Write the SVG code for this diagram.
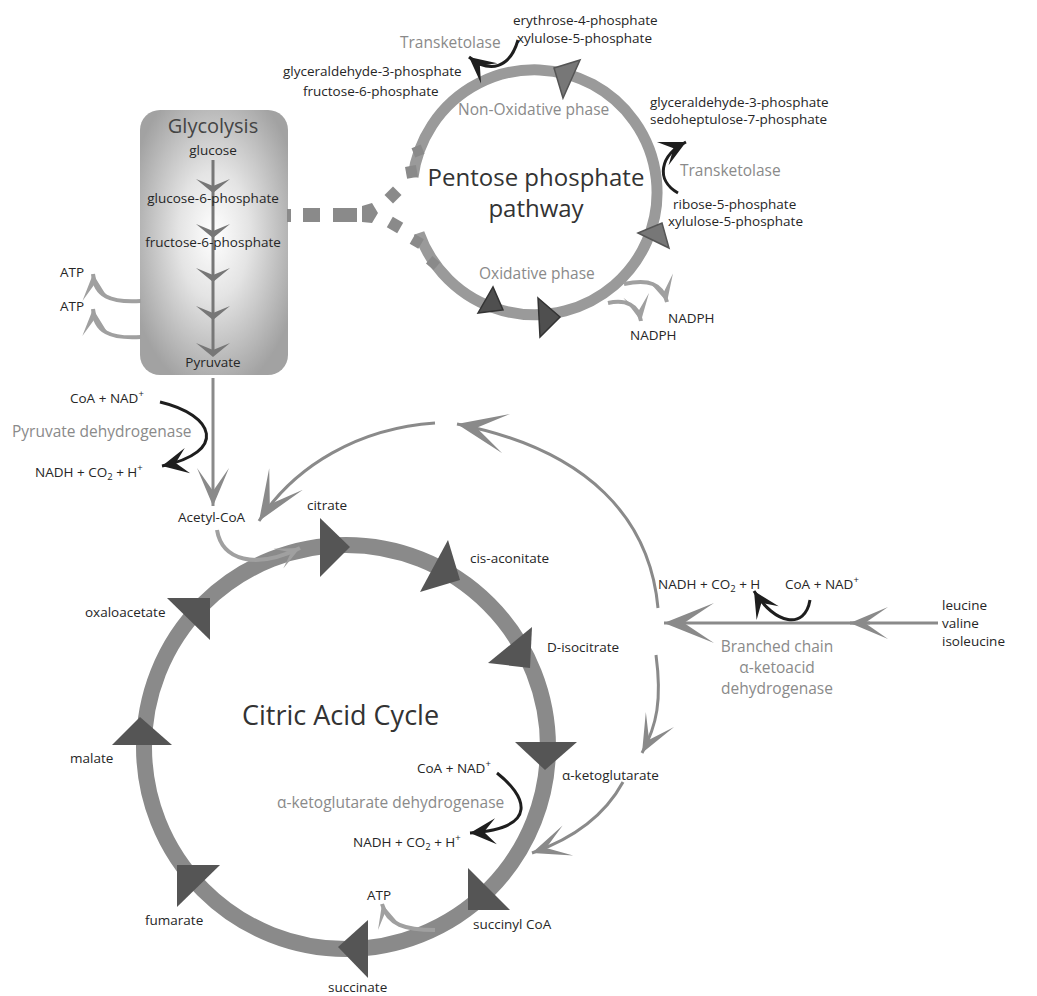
<svg xmlns="http://www.w3.org/2000/svg" width="1037" height="996" viewBox="0 0 1037 996">
<defs>
<radialGradient id="gly" cx="0.5" cy="0.47" r="0.6">
<stop offset="0" stop-color="#ffffff"/>
<stop offset="0.4" stop-color="#e4e4e4"/>
<stop offset="1" stop-color="#a2a2a2"/>
</radialGradient>
<marker id="mBig" markerUnits="userSpaceOnUse" markerWidth="60" markerHeight="50" viewBox="-55 -25 60 50" refX="0" refY="0" orient="auto" overflow="visible">
<path d="M0,0 L-50,-20 L-20,0 L-50,20 Z" fill="#8a8a8a"/>
</marker>
<marker id="mMed" markerUnits="userSpaceOnUse" markerWidth="50" markerHeight="40" viewBox="-45 -20 50 40" refX="0" refY="0" orient="auto" overflow="visible">
<path d="M0,0 L-38,-16 L-15,0 L-38,16 Z" fill="#8a8a8a"/>
</marker>
<marker id="mSm" markerUnits="userSpaceOnUse" markerWidth="30" markerHeight="30" viewBox="-28 -15 30 30" refX="0" refY="0" orient="auto" overflow="visible">
<path d="M0,0 L-24,-11 L-10,0 L-24,11 Z" fill="#a0a0a0"/>
</marker>
<marker id="mSm2" markerUnits="userSpaceOnUse" markerWidth="34" markerHeight="34" viewBox="-32 -17 34 34" refX="0" refY="0" orient="auto" overflow="visible">
<path d="M0,0 L-26,-13 L-11,0 L-26,13 Z" fill="#a0a0a0"/>
</marker>
<marker id="mDk" markerUnits="userSpaceOnUse" markerWidth="34" markerHeight="30" viewBox="-30 -15 34 30" refX="0" refY="0" orient="auto" overflow="visible">
<path d="M0,0 L-26,-13 L-14,0 L-26,13 Z" fill="#1e1e1e"/>
</marker>
<path id="chev" d="M0,0 L-17,-14 L0,-7 L17,-14 Z" fill="#777"/>
<style>
text{font-family:"Open Sans","Liberation Sans",sans-serif}
.t{font-size:13.5px;fill:#262626}
.e{font-size:15.5px;fill:#8a8a8a}
.m{text-anchor:middle}
.tri{fill:#555}
.ptri{fill:#777;stroke:#555;stroke-width:1.5}
.ptri2{fill:#4f4f4f;stroke:#333;stroke-width:1.5}
.ga{fill:none;stroke:#8a8a8a;stroke-width:3}
.la{fill:none;stroke:#a0a0a0;stroke-width:4}
.da{fill:none;stroke:#1e1e1e;stroke-width:3}
.sup{font-size:9.5px}
</style>
</defs>
<rect width="1037" height="996" fill="#fff"/>

<!-- Glycolysis -->
<g id="glycolysis">
<rect x="140" y="110" width="148" height="265" rx="20" fill="url(#gly)"/>
<line x1="213" y1="160" x2="213" y2="352" stroke="#777" stroke-width="3"/>
<use href="#chev" x="213" y="193"/>
<use href="#chev" x="213" y="238"/>
<use href="#chev" x="213" y="282"/>
<use href="#chev" x="213" y="320"/>
<use href="#chev" x="213" y="357"/>
<text class="m" x="213" y="133" font-size="20" fill="#444">Glycolysis</text>
<text class="t m" x="213" y="155">glucose</text>
<text class="t m" x="213" y="203">glucose-6-phosphate</text>
<text class="t m" x="213" y="247">fructose-6-phosphate</text>
<text class="t m" x="213" y="367">Pyruvate</text>
</g>

<g id="atp-glycolysis">
<text class="t" x="60" y="277">ATP</text>
<text class="t" x="60" y="311">ATP</text>
</g>

<!-- Pentose phosphate pathway -->
<g id="pentose">
<path d="M 413 177 A 122.5 122.5 0 1 1 419 233" fill="none" stroke="#9a9a9a" stroke-width="11"/>
<rect x="413" y="146" width="10" height="10" fill="#8a8a8a" transform="rotate(-22 418 151)"/>
<rect x="406" y="166" width="11" height="12" fill="#8a8a8a" transform="rotate(-10 411 172)"/>
<rect x="412" y="236" width="10" height="11" fill="#8a8a8a" transform="rotate(30 417 241)"/>
<rect x="428" y="258" width="10" height="10" fill="#8a8a8a" transform="rotate(40 433 263)"/>
<polygon class="ptri" points="554,68 580,60 563,98"/>
<polygon class="ptri" points="638,233 662,223 669,248"/>
<polygon class="ptri2" points="478,313 493,287 503,310"/>
<polygon class="ptri2" points="538,298 560,317 540,337"/>
<text class="m" x="536" y="186" font-size="24" fill="#333">Pentose phosphate</text>
<text class="m" x="536" y="217" font-size="24" fill="#333">pathway</text>
<text class="e" x="458" y="115">Non-Oxidative phase</text>
<text class="e" x="479" y="279">Oxidative phase</text>
</g>

<g id="pentose-top">
<text class="t" x="513" y="25">erythrose-4-phosphate</text>
<text class="t" x="517" y="43">xylulose-5-phosphate</text>
<text class="e" x="400" y="48">Transketolase</text>
<text class="t" x="283" y="76">glyceraldehyde-3-phosphate</text>
<text class="t" x="303" y="96">fructose-6-phosphate</text>
</g>

<g id="pentose-right">
<text class="t" x="650" y="107">glyceraldehyde-3-phosphate</text>
<text class="t" x="650" y="124">sedoheptulose-7-phosphate</text>
<text class="e" x="680" y="176">Transketolase</text>
<text class="t" x="673" y="209" font-size="13">ribose-5-phosphate</text>
<text class="t" x="668" y="226" font-size="13">xylulose-5-phosphate</text>
</g>

<g id="nadph">
<text class="t" x="668" y="323">NADPH</text>
<text class="t" x="630" y="340">NADPH</text>
</g>

<!-- Pyruvate dehydrogenase -->
<g id="pyruvate-dh">
<text class="t" x="70" y="403">CoA + NAD<tspan class="sup" dy="-6">+</tspan></text>
<text class="e" x="12" y="437" font-size="16.5">Pyruvate dehydrogenase</text>
<text class="t" x="35" y="477">NADH + CO<tspan class="sup" dy="3">2</tspan><tspan dy="-3"> + H</tspan><tspan class="sup" dy="-6">+</tspan></text>
</g>

<!-- Citric acid cycle -->
<g id="citric-cycle">
<circle cx="346" cy="747" r="202" fill="none" stroke="#8a8a8a" stroke-width="16"/>
<text x="242" y="725" font-size="27" fill="#333">Citric Acid Cycle</text>
</g>
<g id="acetyl-coa"><text class="t" x="178" y="522">Acetyl-CoA</text></g>
<g id="citrate"><polygon class="tri" points="320,518 350,547 320,577"/><text class="t" x="307" y="510">citrate</text></g>
<g id="cis-aconitate"><polygon class="tri" points="448,540 460,580 420,592"/><text class="t" x="470" y="563">cis-aconitate</text></g>
<g id="d-isocitrate"><polygon class="tri" points="532,627 530,668 488,663"/><text class="t" x="547" y="652">D-isocitrate</text></g>
<g id="a-ketoglutarate"><polygon class="tri" points="515,742 577,742 545,770"/><text class="t" x="562" y="780">α-ketoglutarate</text></g>
<g id="succinyl-coa"><polygon class="tri" points="468,868 510,910 468,910"/><text class="t" x="473" y="929">succinyl CoA</text></g>
<g id="succinate"><polygon class="tri" points="338,947 368,920 368,978"/><text class="t" x="328" y="992">succinate</text></g>
<g id="fumarate"><polygon class="tri" points="177,865 220,865 177,907"/><text class="t" x="145" y="925">fumarate</text></g>
<g id="malate"><polygon class="tri" points="112,745 140,717 172,745"/><text class="t" x="70" y="763">malate</text></g>
<g id="oxaloacetate"><polygon class="tri" points="167,598 210,598 210,640"/><text class="t" x="85" y="617">oxaloacetate</text></g>

<g id="akg-dh">
<text class="t" x="417" y="773">CoA + NAD<tspan class="sup" dy="-6">+</tspan></text>
<text class="e" x="277" y="808" font-size="16">α-ketoglutarate dehydrogenase</text>
<text class="t" x="353" y="847">NADH + CO<tspan class="sup" dy="3">2</tspan><tspan dy="-3"> + H</tspan><tspan class="sup" dy="-6">+</tspan></text>
</g>
<g id="atp-cycle"><text class="t" x="367" y="900">ATP</text></g>

<!-- Branched chain -->
<g id="branched-dh">
<text class="t" x="658" y="589" font-size="13">NADH + CO<tspan class="sup" dy="3">2</tspan><tspan dy="-3"> + H</tspan></text>
<text class="t" x="785" y="589" font-size="13">CoA + NAD<tspan class="sup" dy="-6">+</tspan></text>
<text class="e m" x="777" y="652" font-size="16">Branched chain</text>
<text class="e m" x="777" y="673" font-size="16">α-ketoacid</text>
<text class="e m" x="777" y="694" font-size="16">dehydrogenase</text>
</g>
<g id="amino-acids">
<text class="t" x="942" y="610">leucine</text>
<text class="t" x="942" y="628">valine</text>
<text class="t" x="942" y="646">isoleucine</text>
</g>

<!-- Connectors -->
<g id="connectors">
<g fill="#8a8a8a">
<rect x="287" y="209" width="4" height="13"/>
<rect x="303" y="208" width="17" height="14"/>
<rect x="333" y="208" width="24" height="14"/>
<polygon points="362,206 372,203 378,213 372,223 362,222"/>
<rect x="387" y="189" width="12" height="12" transform="rotate(-45 393 195)"/>
<rect x="389" y="219" width="12" height="12" transform="rotate(30 395 225)"/>
</g>
<path class="la" stroke-width="5" d="M 141 301 C 110 303, 95 296, 93 274" marker-end="url(#mSm2)"/>
<path class="la" stroke-width="5" d="M 141 337 C 110 339, 95 332, 93 309" marker-end="url(#mSm2)"/>
<path class="da" d="M 518 40 C 510 68, 490 74, 469 57" marker-end="url(#mDk)"/>
<path class="da" d="M 678 193 C 655 180, 660 155, 686 142" marker-end="url(#mDk)"/>
<path class="la" stroke-width="4" d="M 624 284 C 648 279, 662 283, 667 302" marker-end="url(#mSm2)"/>
<path class="la" stroke-width="4" d="M 608 303 C 626 299, 638 305, 641 321" marker-end="url(#mSm2)"/>
<line class="ga" x1="213" y1="378" x2="213" y2="506" marker-end="url(#mMed)"/>
<path class="da" d="M 160 402 C 215 415, 228 452, 162 466" marker-end="url(#mDk)"/>
<path class="la" stroke-width="2.5" d="M 217 530 C 222 560, 255 570, 300 548" marker-end="url(#mSm)"/>
<path class="ga" d="M 658 608 C 650 520, 590 450, 457 424" marker-end="url(#mBig)"/>
<path class="ga" d="M 435 423 C 360 428, 295 465, 259 521" marker-end="url(#mBig)"/>
<path class="ga" d="M 656 655 C 662 700, 657 725, 642 753" marker-end="url(#mMed)"/>
<path class="ga" d="M 623 782 C 605 815, 575 838, 532 853" marker-end="url(#mMed)"/>
<line class="ga" stroke-width="4" x1="870" y1="623" x2="664" y2="623" marker-end="url(#mBig)"/>
<line class="ga" stroke-width="4" x1="938" y1="623" x2="850" y2="623" marker-end="url(#mMed)"/>
<path class="da" d="M 810 600 C 805 630, 775 625, 754 591" marker-end="url(#mDk)"/>
<path class="da" d="M 497 773 C 525 795, 542 828, 470 833" marker-end="url(#mDk)"/>
<path class="la" stroke-width="3.5" d="M 435 930 C 405 930, 388 925, 382 904" marker-end="url(#mSm)"/>
</g>
</svg>
